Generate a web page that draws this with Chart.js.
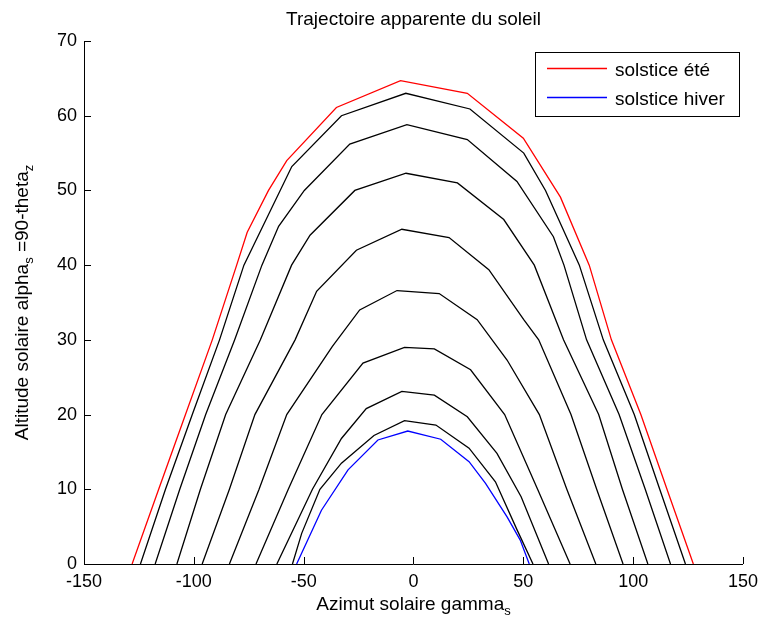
<!DOCTYPE html>
<html>
<head>
<meta charset="utf-8">
<script src="https://cdn.jsdelivr.net/npm/chart.js@4.4.1/dist/chart.umd.min.js"></script>
<style>
  html, body { margin: 0; padding: 0; background: #fff; }
  canvas { display: block; }
</style>
</head>
<body>
<canvas id="myChart" width="765" height="625"></canvas>
<script>
const xTicks = [-150, -100, -50, 0, 50, 100, 150];
const yTicks = [0, 10, 20, 30, 40, 50, 60, 70];

// trajectoires [azimut, altitude]
const solsticeEte = [[-128.1,0],[-116,10],[-103.8,20],[-91.6,30],[-80.5,40],[-75.7,44.4],[-66,50],[-57.7,54],[-35.1,61.1],[-5.9,64.7],[24.5,63],[50,57],[66.9,49.1],[80,40],[90.1,30],[103.5,20],[115.4,10],[127.4,0]];
const courbe1 = [[-124.3,0],[-112.9,10],[-100.7,20],[-88.3,30],[-77.2,40],[-55.4,53.2],[-32.8,60],[-3.5,63],[25.7,60.9],[50.2,55],[60.1,50],[75.5,40],[86.4,30],[100.5,20],[112.1,10],[123.8,0]];
const courbe2 = [[-117.6,0],[-106.4,10],[-94.6,20],[-81.4,30],[-69,40],[-61.4,45.2],[-49.7,50],[-29,56.2],[-3,58.8],[24.5,56.8],[47.1,51.2],[63.7,43.8],[68.5,40],[78.8,30],[93.6,20],[105.5,10],[117,0]];
const courbe3 = [[-107.7,0],[-97,10],[-85.5,20],[-69.7,30],[-55.5,40],[-47.1,44],[-26.7,50],[-3.4,52.3],[20,51],[41.1,46.1],[55,40],[68.3,30],[84.3,20],[95.1,10],[106.7,0]];
const courbe4 = [[-96.2,0],[-83.8,10],[-72.2,20],[-53.9,30],[-44.1,36.5],[-26,42],[-5.3,44.8],[16.2,43.7],[34.3,39.4],[50.2,32.7],[57,30],[71.7,20],[83.4,10],[95.4,0]];
const courbe5 = [[-83.8,0],[-70.3,10],[-57.7,20],[-37,29.1],[-24.5,34],[-7.5,36.6],[-2.6,36.5],[11.7,36.2],[29,32.7],[42.6,27.3],[57.3,20],[69.8,10],[83,0]];
const courbe6 = [[-71.7,0],[-57,10],[-41.7,20],[-23,26.9],[-4.1,29],[9.5,28.8],[26,26],[41.5,20],[56.5,10],[71.3,0]];
const courbe7 = [[-62.2,0],[-46,10],[-32.8,16.8],[-21.5,20.8],[-5.3,23.1],[9.5,22.6],[24.5,19.7],[38,14.8],[49,9],[61.5,0]];
const courbe8 = [[-55.1,0],[-50.9,4.1],[-42.6,10],[-32.8,13.5],[-18,17.2],[-4.1,19.2],[10.2,18.6],[25.3,15.5],[37.3,11],[47.1,4.6],[54.4,0]];
const solsticeHiver = [[-53.2,0],[-41.9,7.2],[-29.8,12.6],[-16.2,16.6],[-2.6,17.8],[12.4,16.7],[25.3,13.7],[32.8,10.8],[42.6,6.3],[48.6,3.2],[52.7,0]];
const intermediaires = [courbe1, courbe2, courbe3, courbe4, courbe5, courbe6, courbe7, courbe8];

const FONT = '"Liberation Sans", Arial, sans-serif';

function toPoints(arr) {
  return arr.map(p => ({ x: p[0], y: p[1] }));
}

function line(label, arr, color) {
  return {
    label: label,
    data: toPoints(arr),
    borderColor: color,
    backgroundColor: color,
    borderWidth: 1.3,
    showLine: true,
    pointRadius: 0,
    tension: 0
  };
}

const datasets = [line('solstice été', solsticeEte, '#ff0000')];
intermediaires.forEach((c, i) => datasets.push(line('c' + (i + 1), c, '#000000')));
datasets.push(line('solstice hiver', solsticeHiver, '#0000ff'));

// texte avec indices (morceaux [texte, estIndice])
function drawParts(ctx, parts, cx, baseY) {
  const sizes = parts.map(p => p[1] ? 13 : 19);
  let total = 0;
  const widths = parts.map((p, i) => {
    ctx.font = sizes[i] + 'px ' + FONT;
    const w = ctx.measureText(p[0]).width;
    total += w;
    return w;
  });
  let x = cx - total / 2;
  ctx.textAlign = 'left';
  ctx.textBaseline = 'alphabetic';
  parts.forEach((p, i) => {
    ctx.font = sizes[i] + 'px ' + FONT;
    ctx.fillText(p[0], x, baseY + (p[1] ? 5 : 0));
    x += widths[i];
  });
}

const decor = {
  id: 'decor',
  afterDraw(chart) {
    const ctx = chart.ctx, a = chart.chartArea;
    const sx = chart.scales.x, sy = chart.scales.y;
    ctx.save();
    ctx.strokeStyle = '#000';
    ctx.lineWidth = 1;
    ctx.beginPath();
    xTicks.forEach(v => {
      const px = Math.round(sx.getPixelForValue(v)) + 0.5;
      ctx.moveTo(px, a.bottom);
      ctx.lineTo(px, a.bottom - 7);
    });
    yTicks.forEach(v => {
      const py = Math.round(sy.getPixelForValue(v)) + 0.5;
      ctx.moveTo(a.left, py);
      ctx.lineTo(a.left + 7, py);
    });
    ctx.stroke();

    ctx.fillStyle = '#000';
    ctx.font = '19px ' + FONT;
    ctx.textAlign = 'center';
    ctx.textBaseline = 'alphabetic';
    ctx.fillText('Trajectoire apparente du soleil', (a.left + a.right) / 2, 25);

    drawParts(ctx, [['Azimut solaire gamma', false], ['s', true]], (a.left + a.right) / 2, 610);

    ctx.save();
    ctx.translate(28, (a.top + a.bottom) / 2);
    ctx.rotate(-Math.PI / 2);
    drawParts(ctx, [['Altitude solaire alpha', false], ['s', true], [' =90-theta', false], ['z', true]], 0, 0);
    ctx.restore();

    // légende
    ctx.fillStyle = '#fff';
    ctx.fillRect(535, 52, 204, 65);
    ctx.lineWidth = 1;
    ctx.strokeStyle = '#000';
    ctx.strokeRect(535.5, 52.5, 204, 64);
    ctx.lineWidth = 1.5;
    ctx.strokeStyle = '#ff0000';
    ctx.beginPath(); ctx.moveTo(547, 68.5); ctx.lineTo(607, 68.5); ctx.stroke();
    ctx.strokeStyle = '#0000ff';
    ctx.beginPath(); ctx.moveTo(547, 97.5); ctx.lineTo(607, 97.5); ctx.stroke();
    ctx.fillStyle = '#000';
    ctx.font = '19px ' + FONT;
    ctx.textAlign = 'left';
    ctx.fillText('solstice été', 615, 76);
    ctx.fillText('solstice hiver', 615, 105);
    ctx.restore();
  }
};

const ctx = document.getElementById('myChart');
new Chart(ctx, {
  type: 'scatter',
  data: { datasets: datasets },
  options: {
    responsive: false,
    animation: false,
    devicePixelRatio: 1,
    layout: { padding: { top: 41, right: 18, left: 0, bottom: 0 } },
    plugins: {
      legend: { display: false },
      title: { display: false },
      tooltip: { enabled: false }
    },
    scales: {
      x: {
        type: 'linear',
        min: -150,
        max: 150,
        afterBuildTicks: s => { s.ticks = xTicks.map(v => ({ value: v })); },
        afterFit: s => { s.height = 61; },
        grid: { display: true, drawOnChartArea: false, drawTicks: false },
        border: { display: true, color: '#000', width: 1 },
        ticks: { color: '#000', font: { family: FONT, size: 18 }, padding: 7, maxRotation: 0 }
      },
      y: {
        type: 'linear',
        min: 0,
        max: 70,
        afterBuildTicks: s => { s.ticks = yTicks.map(v => ({ value: v })); },
        afterFit: s => { s.width = 84; },
        grid: { display: true, drawOnChartArea: false, drawTicks: false },
        border: { display: true, color: '#000', width: 1 },
        ticks: { color: '#000', font: { family: FONT, size: 18 }, padding: 7 }
      }
    }
  },
  plugins: [decor]
});
</script>
</body>
</html>
